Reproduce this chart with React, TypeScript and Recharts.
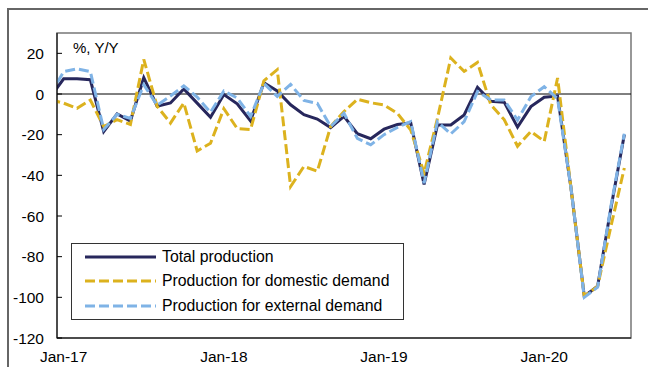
import { Line, LineChart, ReferenceArea, ReferenceLine, XAxis, YAxis } from "recharts"

// months from Dec-16 (index -1) to Jul-20 (index 42)
const months = [
    -1, 0, 1, 2, 3, 4, 5, 6, 7, 8, 9, 10, 11, 12, 13, 14, 15, 16, 17, 18, 19, 20, 21, 22, 23, 24, 25, 26, 27, 28, 29, 30,
    31, 32, 33, 34, 35, 36, 37, 38, 39, 40, 41, 42,
]

const totalProduction = [
    -1.5, 7.5, 7.5, 7, -18.5, -9.8, -13.3, 8, -6, -4.4, 2.5, -4.5, -11.5, -0.3, -4.8, -13.2, 5.5, 1.5, -5.3, -10.2,
    -12.3, -16.5, -11, -19.5, -22, -17.3, -15, -14.2, -44.5, -15.2, -15.2, -10.3, 3.3, -3.6, -4, -16.3, -6.2, -1.6, -1,
    -46, -99.5, -94.5, -56, -20,
]

const domesticDemand = [
    -2.8, -4.5, -7, -3, -16, -12.6, -15, 17, -6, -14.3, -4.4, -28, -24.2, -7.2, -17, -17.5, 6.5, 12, -45.5, -35.6, -38,
    -16, -8.6, -2.6, -4.3, -5.4, -9.5, -17.7, -39, -12, 17.7, 11.1, 15.5, -5.3, -12.6, -25.7, -18.4, -23.3, 7.9, -46,
    -99.5, -94.5, -65, -36.4,
]

const externalDemand = [
    -0.2, 11, 12.4, 11, -17.5, -10, -12, 4.6, -5.5, -1, 4, -1.5, -9, 1.5, -2, -11, 5.2, -1.2, 4.7, -3.2, -4.6, -16, -9.5,
    -21.8, -25, -20, -16.4, -13.6, -43.8, -13.6, -19.6, -13.6, 1.2, -2.9, -2.9, -12.8, -1.3, 3.6, -2.4, -46, -100, -95,
    -55, -19.5,
]

const xTicks = [0, 12, 24, 36]
const xTickLabels = ["Jan-17", "Jan-18", "Jan-19", "Jan-20"]
const yTicks = [-120, -100, -80, -60, -40, -20, 0, 20]

const seriesNames = ["Total production", "Production for domestic demand", "Production for external demand"]

const data = months.map((m, i) => ({
    m,
    total: totalProduction[i],
    domestic: domesticDemand[i],
    external: externalDemand[i],
}))

const font = "'Liberation Sans', Arial, sans-serif"
const NAVY = "#27275c"
const GOLD = "#dcb21e"
const SKY = "#7fb3e6"

function YTick(props: any) {
    const { x, y, payload } = props
    return (
        <g>
            <line x1={x} x2={x + 5} y1={y} y2={y} stroke="#000" />
            <text x={x - 13} y={y} dy="0.355em" textAnchor="end" fontSize={15.5} fill="#000" fontFamily={font}>
                {payload.value}
            </text>
        </g>
    )
}

function LegendBox() {
    const rows = [
        { name: seriesNames[0], color: NAVY, dash: undefined },
        { name: seriesNames[1], color: GOLD, dash: "10 4" },
        { name: seriesNames[2], color: SKY, dash: "10 4" },
    ]
    return (
        <div
            style={{
                position: "absolute",
                left: 71,
                top: 243,
                width: 331,
                height: 75,
                border: "1px solid #333",
                background: "#fff",
                fontFamily: font,
                color: "#000",
            }}
        >
            {rows.map((r, i) => (
                <div
                    key={i}
                    style={{ position: "absolute", left: 13, top: 2.5 + i * 24.7, height: 20, display: "flex", alignItems: "center" }}
                >
                    <svg width={71} height={6} style={{ display: "block" }}>
                        <line x1={0} x2={71} y1={3} y2={3} stroke={r.color} strokeWidth={3} strokeDasharray={r.dash} />
                    </svg>
                    <span style={{ marginLeft: 6, whiteSpace: "nowrap", fontSize: 15.8, lineHeight: "20px" }}>{r.name}</span>
                </div>
            ))}
        </div>
    )
}

export default function App() {
    return (
        <div style={{ position: "absolute", left: 0, top: 0, width: 648, height: 367, overflow: "hidden", background: "#fff" }}>
            <div
                style={{
                    position: "absolute",
                    left: 7,
                    top: 8,
                    width: 700,
                    height: 400,
                    borderTop: "2px solid #666",
                    borderLeft: "2px solid #666",
                }}
            />
            <div style={{ position: "absolute", left: 0, top: 0 }}>
                <LineChart width={648} height={367} data={data} margin={{ top: 33, right: 17, left: 0, bottom: 0 }}>
                    <ReferenceArea x1={-0.5} x2={42.5} y1={-120} y2={30} fill="none" stroke="#777" strokeWidth={1.5} />
                    <XAxis
                        dataKey="m"
                        type="number"
                        domain={[-0.5, 42.5]}
                        allowDataOverflow
                        ticks={xTicks}
                        tickFormatter={(v) => xTickLabels[xTicks.indexOf(v)]}
                        tickLine={false}
                        tickSize={0}
                        tickMargin={13}
                        height={29}
                        axisLine={{ stroke: "#000" }}
                        tick={{ fontSize: 15.5, fill: "#000", fontFamily: font }}
                        interval={0}
                    />
                    <YAxis
                        type="number"
                        domain={[-120, 30]}
                        allowDataOverflow
                        ticks={yTicks}
                        width={57}
                        tickLine={false}
                        tickSize={0}
                        tickMargin={0}
                        axisLine={{ stroke: "#000" }}
                        tick={<YTick />}
                        interval={0}
                    />
                    <ReferenceLine y={0} stroke="#000" strokeWidth={1} />
                    <Line dataKey="total" name={seriesNames[0]} type="linear" stroke={NAVY} strokeWidth={3} dot={false} isAnimationActive={false} />
                    <Line
                        dataKey="domestic"
                        name={seriesNames[1]}
                        type="linear"
                        stroke={GOLD}
                        strokeWidth={3}
                        strokeDasharray="10 4"
                        dot={false}
                        isAnimationActive={false}
                    />
                    <Line
                        dataKey="external"
                        name={seriesNames[2]}
                        type="linear"
                        stroke={SKY}
                        strokeWidth={3}
                        strokeDasharray="10 4"
                        dot={false}
                        isAnimationActive={false}
                    />
                </LineChart>
            </div>
            <LegendBox />
            <div style={{ position: "absolute", left: 73, top: 39, fontFamily: font, fontSize: 15, color: "#000" }}>%, Y/Y</div>
        </div>
    )
}
